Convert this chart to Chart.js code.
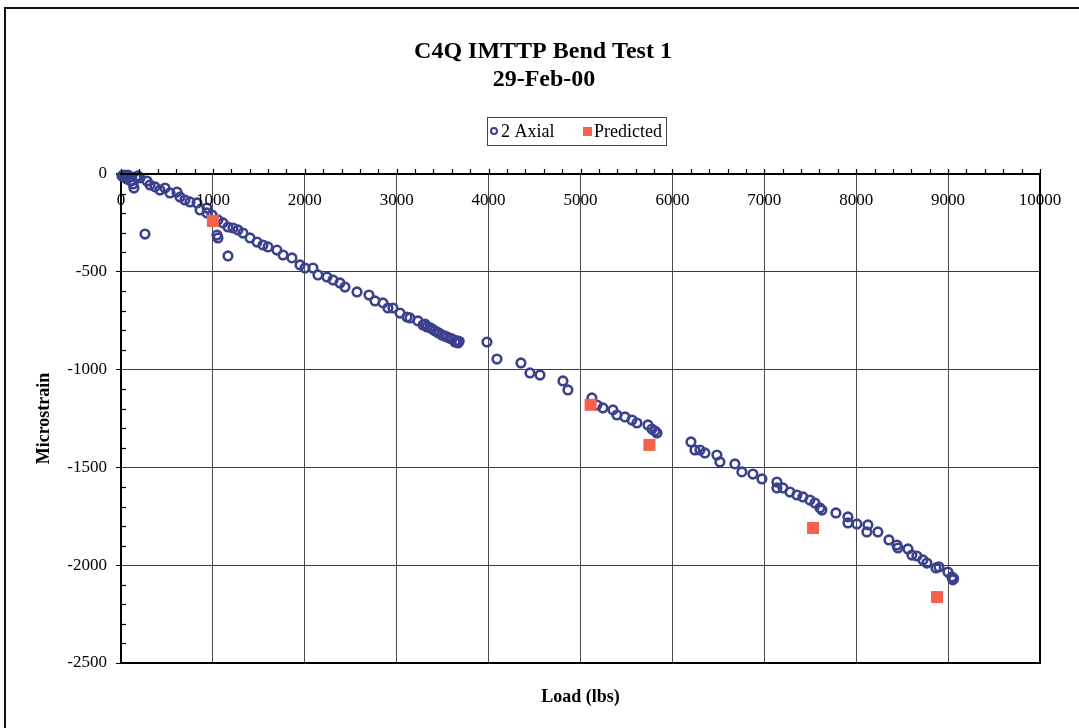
<!DOCTYPE html>
<html><head><meta charset="utf-8">
<script src="https://cdn.jsdelivr.net/npm/chart.js@4/dist/chart.umd.min.js"></script>
<style>html,body{margin:0;padding:0;background:#fff;}</style>
</head><body>
<canvas id="c" width="1079" height="728"></canvas>
<script>
const titleLines = ['C4Q IMTTP Bend Test 1', '29-Feb-00'];
const seriesNames = ['2 Axial', 'Predicted'];
const xAxisTitle = 'Load (lbs)';
const yAxisTitle = 'Microstrain';
const xTickValues = [0, 1000, 2000, 3000, 4000, 5000, 6000, 7000, 8000, 9000, 10000];

const axialLoad = [
  11, 33, 44, 54, 65, 76, 98, 109, 131, 141, 163, 185, 207, 261, 283, 316, 370, 424, 479, 533,
  609, 642, 696, 751, 827, 860, 936, 936, 990, 1055, 1044, 1055, 1164, 1110, 1164, 1219, 1273, 1327, 1404, 1480,
  1545, 1599, 1697, 1763, 1860, 1948, 2002, 2089, 2143, 2241, 2307, 2383, 2437, 2568, 2698, 2764, 2851, 2905, 2959, 3036,
  3112, 3144, 3231, 3286, 3310, 3329, 3360, 3384, 3410, 3438, 3460, 3492, 3520, 3547, 3580, 3601, 3634, 3650, 3667, 3680,
  3982, 4091, 4352, 4450, 4559, 4809, 4863, 5124, 5179, 5244, 5353, 5396, 5484, 5560, 5614, 5734, 5777, 5810, 5832,
  6202, 6245, 6300, 6354, 6484, 6517, 6680, 6756, 6876, 6974, 7137, 7137, 7203, 7279, 7355, 7420, 7496, 7551, 7605, 7627,
  7779, 7910, 7910, 8008, 8127, 8116, 8236, 8356, 8443, 8454, 8563, 8606, 8660, 8726, 8769, 8867, 8900, 8998, 9041, 9052, 9060
];
const axialStrain = [
  -10, -5, -20, -10, -26, -5, -15, -36, -51, -72, -15, -10, -20, -307, -36, -56, -66, -82, -72, -97,
  -92, -118, -133, -143, -148, -184, -174, -199, -210, -235, -312, -327, -419, -250, -271, -276, -286, -302, -327, -348,
  -363, -373, -389, -414, -429, -465, -481, -481, -516, -527, -542, -557, -578, -603, -619, -649, -659, -685, -685, -711,
  -731, -736, -751, -772, -768, -782, -785, -792, -800, -808, -813, -823, -828, -833, -840, -843, -859, -852, -864, -855,
  -859, -946, -966, -1017, -1028, -1058, -1104, -1145, -1181, -1196, -1206, -1232, -1242, -1258, -1273, -1283, -1304, -1314, -1324,
  -1370, -1411, -1411, -1426, -1437, -1472, -1482, -1523, -1534, -1559, -1575, -1605, -1605, -1626, -1641, -1651, -1667, -1682, -1707, -1718,
  -1733, -1753, -1784, -1789, -1794, -1830, -1830, -1871, -1897, -1912, -1917, -1948, -1953, -1973, -1989, -2014, -2009, -2035, -2060, -2075, -2068
];
const predLoad = [1000, 5110, 5750, 7530, 8880];
const predStrain = [-240, -1180, -1385, -1810, -2163];

const NAVY = '#3B418C';
const RED = '#F4614D';
const SERIF = '"Liberation Serif", "Times New Roman", serif';

const axialPts = axialLoad.map((v, i) => ({x: v, y: axialStrain[i]}));
const predPts = predLoad.map((v, i) => ({x: v, y: predStrain[i]}));

const deco = {
  id: 'deco',
  beforeDraw(chart) {
    const ctx = chart.ctx;
    ctx.save();
    ctx.fillStyle = '#fff';
    ctx.fillRect(0, 0, chart.width, chart.height);
    ctx.restore();
  },
  afterDraw(chart) {
    const {ctx, chartArea: a, scales: {x, y}} = chart;
    ctx.save();
    // outer frame
    ctx.strokeStyle = '#111';
    ctx.lineWidth = 2;
    ctx.strokeRect(5, 8, 1100, 740);
    // top axis line
    ctx.strokeStyle = '#000';
    ctx.lineWidth = 2;
    ctx.beginPath(); ctx.moveTo(a.left - 1, a.top); ctx.lineTo(a.right + 1, a.top); ctx.stroke();
    // x minor ticks (outward, up)
    ctx.lineWidth = 1.2;
    for (let v = 0; v <= 10000; v += 200) {
      const px = Math.round(x.getPixelForValue(v)) + 0.5;
      ctx.beginPath(); ctx.moveTo(px, a.top); ctx.lineTo(px, a.top - 5); ctx.stroke();
    }
    // y minor ticks (inward)
    for (let v = -2500; v <= 0; v += 100) {
      if (v % 500 === 0) continue;
      const py = Math.round(y.getPixelForValue(v)) + 0.5;
      ctx.beginPath(); ctx.moveTo(a.left, py); ctx.lineTo(a.left + 5, py); ctx.stroke();
    }
    // x tick labels (below top axis line)
    ctx.fillStyle = '#000';
    ctx.font = '17px ' + SERIF;
    ctx.textAlign = 'center';
    ctx.textBaseline = 'middle';
    xTickValues.forEach(v => ctx.fillText(String(v), x.getPixelForValue(v), a.top + 27));
    // title
    ctx.font = 'bold 24px ' + SERIF;
    ctx.fillText(titleLines[0], 543, 52);
    ctx.fillText(titleLines[1], 544, 80);
    // legend
    ctx.strokeStyle = '#444';
    ctx.lineWidth = 1;
    ctx.strokeRect(487.5, 117.5, 179, 28);
    ctx.strokeStyle = NAVY;
    ctx.lineWidth = 2;
    ctx.beginPath(); ctx.arc(494, 131, 3, 0, Math.PI * 2); ctx.stroke();
    ctx.font = '18px ' + SERIF;
    ctx.textAlign = 'left';
    ctx.fillStyle = '#000';
    ctx.fillText(seriesNames[0], 501, 132);
    ctx.fillStyle = RED;
    ctx.fillRect(583, 127, 9, 9);
    ctx.fillStyle = '#000';
    ctx.fillText(seriesNames[1], 594, 132);
    ctx.restore();
  }
};

new Chart(document.getElementById('c'), {
  type: 'scatter',
  data: {
    datasets: [
      {
        label: seriesNames[0], data: axialPts, order: 1,
        pointStyle: 'circle', pointRadius: 4.3, pointHoverRadius: 4.3,
        borderColor: NAVY, backgroundColor: 'rgba(255,255,255,0)', borderWidth: 2.6, clip: false
      },
      {
        label: seriesNames[1], data: predPts, order: 0,
        pointStyle: 'rect', pointRadius: 8.5, pointHoverRadius: 8.5,
        borderColor: RED, backgroundColor: RED, borderWidth: 0, clip: false
      }
    ]
  },
  options: {
    responsive: false,
    animation: false,
    devicePixelRatio: 1,
    layout: {padding: {top: 174, left: 0, right: 39, bottom: 0}},
    plugins: {legend: {display: false}, title: {display: false}, tooltip: {enabled: false}},
    scales: {
      x: {
        type: 'linear', position: 'bottom', min: 0, max: 10000,
        afterFit: s => { s.height = 65; },
        ticks: {display: false, stepSize: 1000},
        grid: {
          drawTicks: false,
          color: c => (c.tick && c.tick.value === 10000) ? '#000' : '#4a4a4a',
          lineWidth: c => (c.tick && c.tick.value === 10000) ? 2 : 1
        },
        border: {display: true, color: '#000', width: 2},
        title: {display: true, text: xAxisTitle, color: '#000', font: {family: SERIF, size: 18, weight: 'bold'}, padding: {top: 0, bottom: 20}}
      },
      y: {
        type: 'linear', position: 'left', min: -2500, max: 0,
        afterFit: s => { s.width = 121; },
        ticks: {stepSize: 500, color: '#000', font: {family: SERIF, size: 17}, padding: 9, callback: v => String(v)},
        grid: {
          tickLength: 5, tickColor: '#000',
          color: c => (c.tick && c.tick.value === 0) ? '#000' : '#3a3a3a',
          lineWidth: c => (c.tick && c.tick.value === 0) ? 2 : 1
        },
        border: {display: true, color: '#000', width: 2},
        title: {display: true, text: yAxisTitle, color: '#000', font: {family: SERIF, size: 18, weight: 'bold'}, padding: {top: 34, bottom: 0}}
      }
    }
  },
  plugins: [deco]
});
</script>
</body></html>
